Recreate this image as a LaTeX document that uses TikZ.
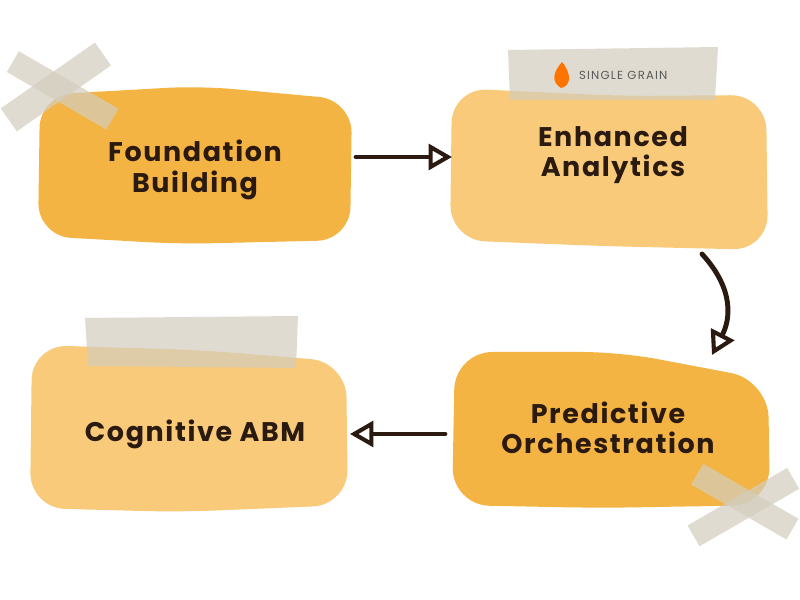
\documentclass[tikz,border=0pt]{standalone}
\usepackage{fontspec}
\setmainfont{Poppins}[LetterSpace=6]
\newfontfamily\logofont{Poppins}[LetterSpace=10]
\usetikzlibrary{arrows.meta}
\definecolor{dk}{HTML}{F4B443}
\definecolor{lt}{HTML}{F9CA7A}
\definecolor{tx}{HTML}{2B1A10}
\definecolor{tape}{HTML}{D3CDBE}
\tikzset{
 lbl/.style={font=\bfseries\fontsize{23}{26}\selectfont, text=tx, align=center},
 conn/.style={draw=tx, line width=4.2pt, line cap=round, -{Triangle[open,length=20pt,width=22pt,line width=3.5pt]}},
 tapest/.style={fill=tape, opacity=0.7}
}
\begin{document}
\begin{tikzpicture}[x=0.03cm,y=-0.03cm]
\useasboundingbox (0,0) rectangle (800,600);
\fill[white] (0,0) rectangle (800,600);
% blobs
\fill[dk,rounded corners=28] (40,95) -- (200,86) -- (352,100) -- (350,240) -- (180,244) -- (38,236) -- cycle;
\fill[lt,rounded corners=30] (452,88) -- (620,96) -- (766,95) -- (768,250) -- (600,246) -- (450,240) -- cycle;
\fill[dk,rounded corners=32] (455,352) -- (620,352) -- (768,380) -- (770,505) -- (600,508) -- (452,505) -- cycle;
\fill[lt,rounded corners=30] (32,345) -- (200,350) -- (346,362) -- (348,505) -- (180,512) -- (30,508) -- cycle;
% tapes
\fill[tapest,rotate around={35:(55,90)}] (0,74) rectangle (115,102);
\fill[tapest,rotate around={-30:(60,90)}] (5,77) rectangle (120,101);
\fill[tapest] (508,50) -- (718,47) -- (715,100) -- (510,100) -- cycle;
\fill[tapest] (85,318) -- (298,316) -- (296,368) -- (88,366) -- cycle;
\fill[tapest,rotate around={-30:(740,500)}] (690,487) rectangle (800,511);
\fill[tapest,rotate around={30:(745,505)}] (685,494) rectangle (800,518);
% logo
\fill[orange!90!red] (562,62) .. controls (553,72) and (551,82) .. (561,88) .. controls (571,86) and (572,74) .. (562,62) -- cycle;
\node[anchor=west, font=\logofont\fontsize{10}{11}\selectfont, text=gray!70!black] (logo) at (575,75) {SINGLE GRAIN};
% labels
\node[lbl] (a) at (195,170) {Foundation\\Building};
\node[lbl] (b) at (613,155) {Enhanced\\Analytics};
\node[lbl] (c) at (608,428) {Predictive\\Orchestration};
\node[lbl] (d) at (195,434) {Cognitive ABM};
\coordinate (a1) at (356,157); \coordinate (b1) at (452,157);
\coordinate (b2) at (702,254); \coordinate (c1) at (712,355);
\coordinate (c2) at (445,434); \coordinate (d1) at (350,434);
\draw[conn] (a1) -- (b1);
\draw[conn] (b2) .. controls (735,290) and (730,320) .. (c1);
\draw[conn] (c2) -- (d1);
\end{tikzpicture}
\end{document}
